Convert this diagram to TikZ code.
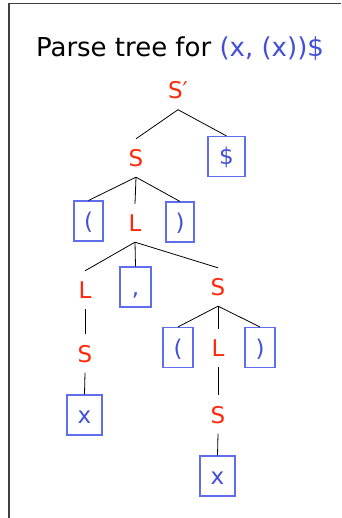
\documentclass[tikz,border=0pt]{standalone}
\usepackage{fontspec}
\setmainfont{DejaVu Sans}
\definecolor{ntred}{RGB}{255,40,10}
\definecolor{tblue}{RGB}{65,80,215}
\definecolor{boxblue}{RGB}{95,110,235}
\begin{document}
\begin{tikzpicture}[x=1pt,y=-1pt,
  every node/.style={font=\fontsize{23}{26}\selectfont, text height=17pt, text depth=0pt},
  nt/.style={text=ntred, inner xsep=0pt, inner ysep=10.5pt},
  tm/.style={text=tblue, draw=boxblue, line width=1.1pt, inner sep=0pt, minimum height=40pt, minimum width=#1},
  tm/.default=30pt,
  edge/.style={line width=0.8pt, black}]
\useasboundingbox (0,0) rectangle (341,518);
\fill[white] (0,0) rectangle (341,518);
\draw[line width=1.4pt, black!75] (9,518) -- (9,3.5) -- (341,3.5);
% title
\node[anchor=base, font=\fontsize{26}{30}\selectfont, text height=, text depth=] (title) at (180,57)
  {Parse tree for \textcolor{tblue}{(x, (x))\$}};
% nodes
\node[nt] (sp) at (178,90.5) {S′};
\node[nt] (s1) at (136,158) {S};
\node[tm=37pt] (dollar) at (226.5,156.5) {\$};
\node[tm=29pt] (lp1) at (88.5,221) {(};
\node[nt] (l1) at (135,223) {L};
\node[tm=28pt] (rp1) at (180,222) {)};
\node[nt] (l2) at (85,290) {L};
\node[tm=31pt] (comma) at (135.5,287) {,};
\node[nt] (s2) at (218,287) {S};
\node[nt] (s3) at (85,353.5) {S};
\node[tm=30pt] (lp2) at (178,347.5) {(};
\node[nt] (l3) at (218,348) {L};
\node[tm=30pt] (rp2) at (260,347.5) {)};
\node[tm=35pt] (x1) at (84.5,415) {x};
\node[nt] (s4) at (218,414.5) {S};
\node[tm=35pt] (x2) at (217.5,476) {x};
% edges
\draw[edge] (sp.south) -- (s1.north);
\draw[edge] (sp.south) -- (dollar.north);
\draw[edge] (s1.south) -- (lp1.north);
\draw[edge] (s1.south) -- (l1.north);
\draw[edge] (s1.south) -- (rp1.north);
\draw[edge] (l1.south) -- (l2.north);
\draw[edge] (l1.south) -- (comma.north);
\draw[edge] (l1.south) -- (s2.north);
\draw[edge] (l2.south) -- (s3.north);
\draw[edge] (s2.south) -- (lp2.north);
\draw[edge] (s2.south) -- (l3.north);
\draw[edge] (s2.south) -- (rp2.north);
\draw[edge] (s3.south) -- (x1.north);
\draw[edge] (l3.south) -- (s4.north);
\draw[edge] (s4.south) -- (x2.north);
\end{tikzpicture}
\end{document}
